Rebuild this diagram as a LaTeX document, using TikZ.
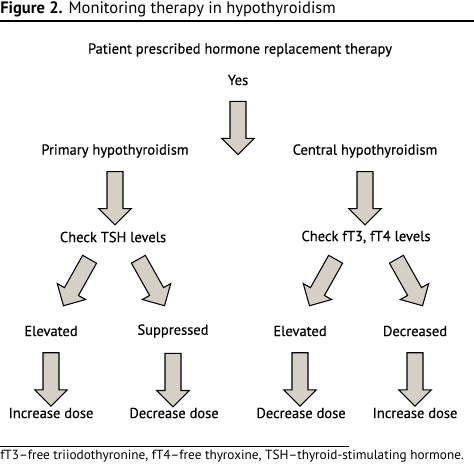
\documentclass[tikz,border=0pt]{standalone}
\usepackage{fontspec}
\setmainfont{PT Sans}
\newfontfamily\heavyfont{PT Sans}[FakeBold=0.35]
\usetikzlibrary{shapes.arrows, calc}
\definecolor{arrowfill}{HTML}{D5D0C5}
\tikzstyle{flow}=[x=0.75pt, y=-0.75pt]
\tikzstyle{step label}=[inner sep=1pt, font=\heavyfont\fontsize{10.9}{12}\selectfont]
\tikzstyle{blockarrow}=[draw, line width=0.8pt, fill=arrowfill, single arrow,
  single arrow head extend=6.2pt, inner xsep=0pt, inner ysep=5.6pt,
  minimum height=40pt, sloped, allow upside down]

\begin{document}
\begin{tikzpicture}[flow]
  \useasboundingbox (0,0) rectangle (474,465);
  % title and rules
  \node[anchor=west, inner sep=0pt, font=\fontsize{12.4}{14}\selectfont] (title) at (0,9) {\textbf{Figure 2.} Monitoring therapy in hypothyroidism};
  \draw[line width=1.5pt] (0,21) -- (474,21);
  \draw[line width=0.7pt] (0,446) -- (349,446);
  \node[anchor=west, inner sep=0pt, font=\fontsize{9.95}{10}\selectfont] (note) at (0,456) {fT3–free triiodothyronine, fT4–free thyroxine, TSH–thyroid-stimulating hormone.};
  % steps
  \node[step label] (patient) at (240,50) {Patient prescribed hormone replacement therapy};
  \node[step label] (yes) at (238,80) {Yes};
  \node[step label] (primary) at (115,151) {Primary hypothyroidism};
  \node[step label] (central) at (365,151) {Central hypothyroidism};
  \node[step label] (tsh) at (113,237) {Check TSH levels};
  \node[step label] (ft) at (366,237) {Check fT3, fT4 levels};
  \node[step label] (elev1) at (51,331) {Elevated};
  \node[step label] (supp) at (173,331) {Suppressed};
  \node[step label] (elev2) at (300,331) {Elevated};
  \node[step label] (decr) at (415,331) {Decreased};
  \node[step label] (inc1) at (51,413) {Increase dose};
  \node[step label] (dec1) at (174,413) {Decrease dose};
  \node[step label] (dec2) at (301,413) {Decrease dose};
  \node[step label] (inc2) at (415,413) {Increase dose};
  % block arrows
  \path (yes) -- node[blockarrow, pos=.58] (a0) {} (yes |- primary);
  \path (primary) -- node[blockarrow, pos=.45] (a1) {} (primary |- tsh);
  \path (central) -- node[blockarrow, pos=.45] (a2) {} (central |- ft);
  \path ($(tsh)+(-21,18)$) -- node[blockarrow] (a3) {} ($(tsh)+(-48,66)$);
  \path ($(tsh)+(23,18)$) -- node[blockarrow] (a4) {} ($(tsh)+(50,66)$);
  \path ($(ft)+(-28,18)$) -- node[blockarrow] (a5) {} ($(ft)+(-55,66)$);
  \path ($(ft)+(28,18)$) -- node[blockarrow] (a6) {} ($(ft)+(55,66)$);
  \path (elev1) -- node[blockarrow] (a7) {} (elev1 |- inc1);
  \path (supp) -- node[blockarrow] (a8) {} (supp |- dec1);
  \path (elev2) -- node[blockarrow] (a9) {} (elev2 |- dec2);
  \path (decr) -- node[blockarrow] (a10) {} (decr |- inc2);
\end{tikzpicture}
\end{document}
